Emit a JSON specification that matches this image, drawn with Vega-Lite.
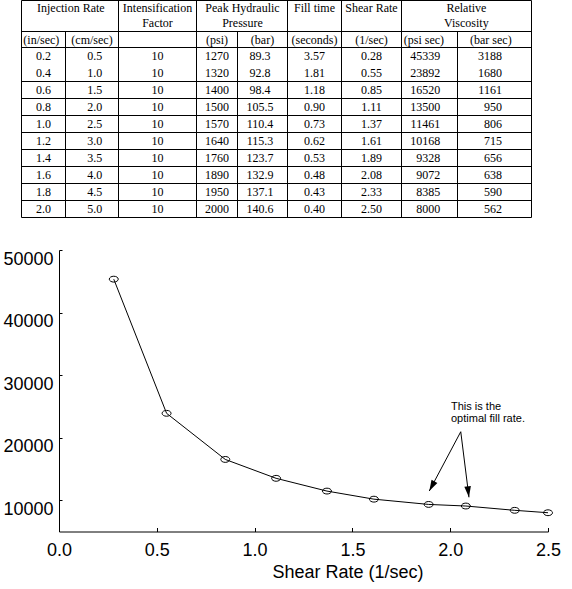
{
  "$schema": "https://vega.github.io/schema/vega-lite/v6.json",
  "width": 572,
  "height": 589,
  "padding": 0,
  "autosize": {"type": "none"},
  "background": "white",
  "config": {"view": {"stroke": null}},
  "datasets": {
    "table": [
      {"in_sec": 0.2, "cm_sec": 0.5, "factor": 10, "psi": 1270, "bar": 89.3, "fill": 3.57, "shear": 0.28, "psi_sec": 45339, "bar_sec": 3188},
      {"in_sec": 0.4, "cm_sec": 1.0, "factor": 10, "psi": 1320, "bar": 92.8, "fill": 1.81, "shear": 0.55, "psi_sec": 23892, "bar_sec": 1680},
      {"in_sec": 0.6, "cm_sec": 1.5, "factor": 10, "psi": 1400, "bar": 98.4, "fill": 1.18, "shear": 0.85, "psi_sec": 16520, "bar_sec": 1161},
      {"in_sec": 0.8, "cm_sec": 2.0, "factor": 10, "psi": 1500, "bar": 105.5, "fill": 0.90, "shear": 1.11, "psi_sec": 13500, "bar_sec": 950},
      {"in_sec": 1.0, "cm_sec": 2.5, "factor": 10, "psi": 1570, "bar": 110.4, "fill": 0.73, "shear": 1.37, "psi_sec": 11461, "bar_sec": 806},
      {"in_sec": 1.2, "cm_sec": 3.0, "factor": 10, "psi": 1640, "bar": 115.3, "fill": 0.62, "shear": 1.61, "psi_sec": 10168, "bar_sec": 715},
      {"in_sec": 1.4, "cm_sec": 3.5, "factor": 10, "psi": 1760, "bar": 123.7, "fill": 0.53, "shear": 1.89, "psi_sec": 9328, "bar_sec": 656},
      {"in_sec": 1.6, "cm_sec": 4.0, "factor": 10, "psi": 1890, "bar": 132.9, "fill": 0.48, "shear": 2.08, "psi_sec": 9072, "bar_sec": 638},
      {"in_sec": 1.8, "cm_sec": 4.5, "factor": 10, "psi": 1950, "bar": 137.1, "fill": 0.43, "shear": 2.33, "psi_sec": 8385, "bar_sec": 590},
      {"in_sec": 2.0, "cm_sec": 5.0, "factor": 10, "psi": 2000, "bar": 140.6, "fill": 0.40, "shear": 2.50, "psi_sec": 8000, "bar_sec": 562}
    ],
    "heads": [
      {"t": "Injection Rate", "c": 1.1},
      {"t": "Intensification\nFactor", "c": 2.5},
      {"t": "Peak Hydraulic\nPressure", "c": 4.1},
      {"t": "Fill time", "c": 5.5},
      {"t": "Shear Rate", "c": 6.5},
      {"t": "Relative\nViscosity", "c": 8.12}
    ],
    "subs": [
      {"t": "(in/sec)", "c": 0.45},
      {"t": "(cm/sec)", "c": 1.5},
      {"t": "(psi)", "c": 3.5},
      {"t": "(bar)", "c": 4.5},
      {"t": "(seconds)", "c": 5.5},
      {"t": "(1/sec)", "c": 6.5},
      {"t": "(psi sec)", "c": 7.4},
      {"t": "(bar sec)", "c": 8.45}
    ],
    "notes": [
      {"t": "This is the\noptimal fill rate.", "x": 2.004, "y": 24950}
    ],
    "arrows": [
      {"id": "a", "x": 2.054, "y": 20950, "x2": 1.893, "y2": 11474},
      {"id": "b", "x": 2.054, "y": 20950, "x2": 2.096, "y2": 10467}
    ]
  },
  "resolve": {"scale": {"x": "independent", "y": "independent"}},
  "layer": [
    {
      "data": {"name": "table"},
      "layer": [
        {
          "mark": {"type": "text", "font": "Liberation Serif", "fontSize": 12, "color": "black", "align": "center", "baseline": "middle"},
          "encoding": {
            "x": {"datum": 0.5, "type": "quantitative", "axis": null,
                  "scale": {"domain": [0, 1, 2, 3, 4, 5, 6, 7, 8, 9], "range": [21.5, 65.5, 118.5, 196.5, 237.5, 287.5, 341.5, 401.5, 457.5, 531.5], "nice": false, "zero": false}},
            "y": {"field": "in_sec", "type": "quantitative", "axis": null,
                  "scale": {"domain": [-0.5, -0.1, 0.1, 2.1], "range": [0.5, 31.5, 47.5, 217.5], "nice": false, "zero": false}},
            "text": {"field": "in_sec", "type": "quantitative", "format": ".1f"}
          }
        },
        {
          "mark": {"type": "text", "font": "Liberation Serif", "fontSize": 12, "color": "black", "align": "center", "baseline": "middle"},
          "encoding": {
            "x": {"datum": 1.55, "type": "quantitative"},
            "y": {"field": "in_sec", "type": "quantitative"},
            "text": {"field": "cm_sec", "type": "quantitative", "format": ".1f"}
          }
        },
        {
          "mark": {"type": "text", "font": "Liberation Serif", "fontSize": 12, "color": "black", "align": "center", "baseline": "middle"},
          "encoding": {
            "x": {"datum": 2.5, "type": "quantitative"},
            "y": {"field": "in_sec", "type": "quantitative"},
            "text": {"field": "factor", "type": "quantitative", "format": "d"}
          }
        },
        {
          "mark": {"type": "text", "font": "Liberation Serif", "fontSize": 12, "color": "black", "align": "center", "baseline": "middle"},
          "encoding": {
            "x": {"datum": 3.5, "type": "quantitative"},
            "y": {"field": "in_sec", "type": "quantitative"},
            "text": {"field": "psi", "type": "quantitative", "format": "d"}
          }
        },
        {
          "mark": {"type": "text", "font": "Liberation Serif", "fontSize": 12, "color": "black", "align": "center", "baseline": "middle"},
          "encoding": {
            "x": {"datum": 4.45, "type": "quantitative"},
            "y": {"field": "in_sec", "type": "quantitative"},
            "text": {"field": "bar", "type": "quantitative", "format": ".1f"}
          }
        },
        {
          "mark": {"type": "text", "font": "Liberation Serif", "fontSize": 12, "color": "black", "align": "center", "baseline": "middle"},
          "encoding": {
            "x": {"datum": 5.5, "type": "quantitative"},
            "y": {"field": "in_sec", "type": "quantitative"},
            "text": {"field": "fill", "type": "quantitative", "format": ".2f"}
          }
        },
        {
          "mark": {"type": "text", "font": "Liberation Serif", "fontSize": 12, "color": "black", "align": "center", "baseline": "middle"},
          "encoding": {
            "x": {"datum": 6.5, "type": "quantitative"},
            "y": {"field": "in_sec", "type": "quantitative"},
            "text": {"field": "shear", "type": "quantitative", "format": ".2f"}
          }
        },
        {
          "mark": {"type": "text", "font": "Liberation Serif", "fontSize": 12, "color": "black", "align": "right", "baseline": "middle"},
          "encoding": {
            "x": {"datum": 7.69, "type": "quantitative"},
            "y": {"field": "in_sec", "type": "quantitative"},
            "text": {"field": "psi_sec", "type": "quantitative", "format": "d"}
          }
        },
        {
          "mark": {"type": "text", "font": "Liberation Serif", "fontSize": 12, "color": "black", "align": "right", "baseline": "middle"},
          "encoding": {
            "x": {"datum": 8.6, "type": "quantitative"},
            "y": {"field": "in_sec", "type": "quantitative"},
            "text": {"field": "bar_sec", "type": "quantitative", "format": "d"}
          }
        },
        {
          "data": {"name": "heads"},
          "mark": {"type": "text", "font": "Liberation Serif", "fontSize": 12, "color": "black", "align": "center", "baseline": "middle", "lineBreak": "\n", "lineHeight": 15},
          "encoding": {
            "x": {"field": "c", "type": "quantitative"},
            "y": {"datum": -0.4, "type": "quantitative"},
            "text": {"field": "t", "type": "nominal"}
          }
        },
        {
          "data": {"name": "subs"},
          "mark": {"type": "text", "font": "Liberation Serif", "fontSize": 12, "color": "black", "align": "center", "baseline": "middle"},
          "encoding": {
            "x": {"field": "c", "type": "quantitative"},
            "y": {"datum": 0.0, "type": "quantitative"},
            "text": {"field": "t", "type": "nominal"}
          }
        },
        {
          "transform": [{"filter": {"field": "in_sec", "gt": 0.3}}],
          "mark": {"type": "rule", "color": "black", "strokeWidth": 1, "yOffset": 8.5},
          "encoding": {
            "x": {"datum": 0, "type": "quantitative"},
            "x2": {"datum": 9},
            "y": {"field": "in_sec", "type": "quantitative"}
          }
        },
        {"data": {"values": [{}]}, "mark": {"type": "rule", "color": "black", "strokeWidth": 1},
         "encoding": {"x": {"datum": 0, "type": "quantitative"}, "x2": {"datum": 9}, "y": {"datum": -0.5, "type": "quantitative"}}},
        {"data": {"values": [{}]}, "mark": {"type": "rule", "color": "black", "strokeWidth": 1},
         "encoding": {"x": {"datum": 0, "type": "quantitative"}, "x2": {"datum": 9}, "y": {"datum": -0.1, "type": "quantitative"}}},
        {"data": {"values": [{}]}, "mark": {"type": "rule", "color": "black", "strokeWidth": 1},
         "encoding": {"x": {"datum": 0, "type": "quantitative"}, "x2": {"datum": 9}, "y": {"datum": 0.1, "type": "quantitative"}}},
        {"data": {"values": [{}]}, "mark": {"type": "rule", "color": "black", "strokeWidth": 1},
         "encoding": {"x": {"datum": 0, "type": "quantitative"}, "y": {"datum": -0.5, "type": "quantitative"}, "y2": {"datum": 2.1}}},
        {"data": {"values": [{}]}, "mark": {"type": "rule", "color": "black", "strokeWidth": 1},
         "encoding": {"x": {"datum": 1, "type": "quantitative"}, "y": {"datum": -0.1, "type": "quantitative"}, "y2": {"datum": 2.1}}},
        {"data": {"values": [{}]}, "mark": {"type": "rule", "color": "black", "strokeWidth": 1},
         "encoding": {"x": {"datum": 2, "type": "quantitative"}, "y": {"datum": -0.5, "type": "quantitative"}, "y2": {"datum": 2.1}}},
        {"data": {"values": [{}]}, "mark": {"type": "rule", "color": "black", "strokeWidth": 1},
         "encoding": {"x": {"datum": 3, "type": "quantitative"}, "y": {"datum": -0.5, "type": "quantitative"}, "y2": {"datum": 2.1}}},
        {"data": {"values": [{}]}, "mark": {"type": "rule", "color": "black", "strokeWidth": 1},
         "encoding": {"x": {"datum": 4, "type": "quantitative"}, "y": {"datum": -0.1, "type": "quantitative"}, "y2": {"datum": 2.1}}},
        {"data": {"values": [{}]}, "mark": {"type": "rule", "color": "black", "strokeWidth": 1},
         "encoding": {"x": {"datum": 5, "type": "quantitative"}, "y": {"datum": -0.5, "type": "quantitative"}, "y2": {"datum": 2.1}}},
        {"data": {"values": [{}]}, "mark": {"type": "rule", "color": "black", "strokeWidth": 1},
         "encoding": {"x": {"datum": 6, "type": "quantitative"}, "y": {"datum": -0.5, "type": "quantitative"}, "y2": {"datum": 2.1}}},
        {"data": {"values": [{}]}, "mark": {"type": "rule", "color": "black", "strokeWidth": 1},
         "encoding": {"x": {"datum": 7, "type": "quantitative"}, "y": {"datum": -0.5, "type": "quantitative"}, "y2": {"datum": 2.1}}},
        {"data": {"values": [{}]}, "mark": {"type": "rule", "color": "black", "strokeWidth": 1},
         "encoding": {"x": {"datum": 8, "type": "quantitative"}, "y": {"datum": -0.1, "type": "quantitative"}, "y2": {"datum": 2.1}}},
        {"data": {"values": [{}]}, "mark": {"type": "rule", "color": "black", "strokeWidth": 1},
         "encoding": {"x": {"datum": 9, "type": "quantitative"}, "y": {"datum": -0.5, "type": "quantitative"}, "y2": {"datum": 2.1}}}
      ]
    },
    {
      "data": {"name": "table"},
      "layer": [
        {
          "mark": {"type": "line", "color": "black", "strokeWidth": 1},
          "encoding": {
            "x": {"field": "shear", "type": "quantitative",
                  "scale": {"domain": [0, 2.5], "range": [59, 548], "nice": false, "zero": false},
                  "axis": {"orient": "bottom", "offset": -57.5, "values": [0, 0.5, 1, 1.5, 2, 2.5], "format": ".1f",
                           "labelFlush": false, "labelOverlap": false, "labelFont": "Liberation Sans", "labelFontSize": 18,
                           "labelColor": "black", "labelPadding": 14, "labelBaseline": "top", "tickSize": -4, "tickColor": "black",
                           "domainColor": "black", "grid": false,
                           "title": "Shear Rate (1/sec)", "titleFont": "Liberation Sans", "titleFontSize": 18,
                           "titleFontWeight": "normal", "titleColor": "black", "titleX": 347.5, "titleY": 46,
                           "titleBaseline": "alphabetic", "titleAlign": "center"}},
            "y": {"field": "psi_sec", "type": "quantitative",
                  "scale": {"domain": [5000, 50000], "range": [531.5, 250], "nice": false, "zero": false},
                  "axis": {"orient": "left", "offset": -59, "values": [10000, 20000, 30000, 40000, 50000], "format": "d",
                           "labelFlush": false, "labelOverlap": false, "labelFont": "Liberation Sans", "labelFontSize": 18,
                           "labelColor": "black", "labelPadding": 9, "labelBaseline": "top", "labelAlign": "right",
                           "tickSize": -3, "tickColor": "black", "domainColor": "black", "grid": false, "title": null}}
          }
        },
        {
          "mark": {"type": "point", "shape": "M-1,0A1,0.65,0,1,1,1,0A1,0.65,0,1,1,-1,0Z", "size": 81, "filled": false,
                   "stroke": "black", "strokeWidth": 1, "opacity": 1},
          "encoding": {
            "x": {"field": "shear", "type": "quantitative"},
            "y": {"field": "psi_sec", "type": "quantitative"}
          }
        },
        {
          "data": {"name": "notes"},
          "mark": {"type": "text", "font": "Liberation Sans", "fontSize": 11, "color": "black", "align": "left",
                   "baseline": "middle", "lineBreak": "\n", "lineHeight": 12.5},
          "encoding": {
            "x": {"field": "x", "type": "quantitative"},
            "y": {"field": "y", "type": "quantitative"},
            "text": {"field": "t", "type": "nominal"}
          }
        },
        {
          "data": {"name": "arrows"},
          "mark": {"type": "rule", "color": "black", "strokeWidth": 1},
          "encoding": {
            "x": {"field": "x", "type": "quantitative"},
            "y": {"field": "y", "type": "quantitative"},
            "x2": {"field": "x2"},
            "y2": {"field": "y2"}
          }
        },
        {
          "data": {"name": "arrows"},
          "transform": [{"filter": "datum.id == 'a'"}],
          "mark": {"type": "point", "shape": "M0,1L-0.6,-1L0.6,-1Z", "size": 121, "filled": true, "color": "black",
                   "opacity": 1, "angle": 27.9, "xOffset": 2.6, "yOffset": -4.8},
          "encoding": {
            "x": {"field": "x2", "type": "quantitative"},
            "y": {"field": "y2", "type": "quantitative"}
          }
        },
        {
          "data": {"name": "arrows"},
          "transform": [{"filter": "datum.id == 'b'"}],
          "mark": {"type": "point", "shape": "M0,1L-0.6,-1L0.6,-1Z", "size": 121, "filled": true, "color": "black",
                   "opacity": 1, "angle": 352.8, "xOffset": -0.7, "yOffset": -5.4},
          "encoding": {
            "x": {"field": "x2", "type": "quantitative"},
            "y": {"field": "y2", "type": "quantitative"}
          }
        }
      ]
    }
  ]
}
